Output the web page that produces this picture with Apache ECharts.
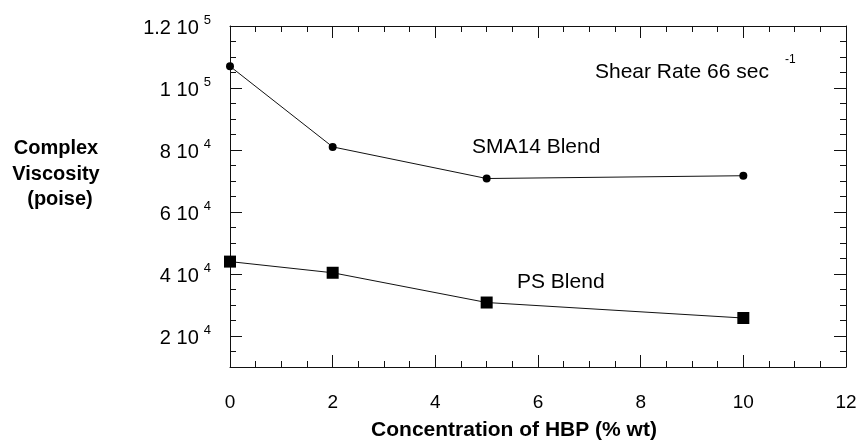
<!DOCTYPE html>
<html>
<head>
<meta charset="utf-8">
<script src="https://cdn.jsdelivr.net/npm/echarts@6/dist/echarts.min.js"></script>
<style>
html,body{margin:0;padding:0;background:#fff;}
#chart{width:861px;height:444px;}
</style>
</head>
<body>
<div id="chart"></div>
<script>
// ---- data ----
const concentration = [0, 2, 5, 10];
const sma14Blend = [107000, 81000, 70800, 71700];
const psBlend = [44000, 40400, 30800, 25800];
const yMajorTicks = [20000, 40000, 60000, 80000, 100000, 120000];
const xTickLabels = ['0', '2', '4', '6', '8', '10', '12'];
const annotations = {
  shear: 'Shear Rate 66 sec',
  shearSup: '-1',
  sma: 'SMA14 Blend',
  ps: 'PS Blend'
};
const yTitleLines = ['Complex', 'Viscosity', '(poise)'];
const xTitle = 'Concentration of HBP (% wt)';

const FONT = 'Liberation Sans, Arial, Helvetica, sans-serif';
const INK = '#111';

function sci(v) {
  const e = Math.floor(Math.log10(v) + 1e-9);
  const m = +(v / Math.pow(10, e)).toFixed(1);
  return '{m|' + m + ' 10}{e|' + e + '}';
}

const yRange = {min: 10000, max: 120000};
const xRange = {min: 0, max: 12};

const chart = echarts.init(document.getElementById('chart'), null, {renderer: 'canvas'});

const commonY = {
  type: 'value', min: yRange.min, max: yRange.max, splitLine: {show: false}
};
const commonX = {
  type: 'value', min: xRange.min, max: xRange.max, interval: 2, splitLine: {show: false}
};

chart.setOption({
  animation: false,
  backgroundColor: '#fff',
  grid: {left: 230, right: 15, top: 26, bottom: 77, containLabel: false, outerBoundsMode: 'none'},
  xAxis: [
    Object.assign({}, commonX, {
      position: 'bottom',
      axisLine: {show: true, lineStyle: {color: INK, width: 1}},
      axisTick: {show: true, inside: true, length: 12, lineStyle: {color: INK}},
      minorTick: {show: true, splitNumber: 4, length: 6, lineStyle: {color: INK}},
      axisLabel: {
        show: true, margin: 26, color: '#000', fontSize: 19, fontFamily: FONT,
        formatter: function (v) { return xTickLabels[Math.round(v / 2)]; }
      }
    }),
    Object.assign({}, commonX, {
      position: 'top',
      axisLine: {show: true, lineStyle: {color: INK, width: 1}},
      axisTick: {show: true, inside: true, length: 12, lineStyle: {color: INK}},
      minorTick: {show: true, splitNumber: 4, length: 6, lineStyle: {color: INK}},
      axisLabel: {show: false}
    })
  ],
  yAxis: [
    Object.assign({}, commonY, {
      position: 'left',
      axisLine: {show: true, lineStyle: {color: INK, width: 1}},
      axisTick: {show: true, inside: true, length: 12, customValues: yMajorTicks, lineStyle: {color: INK}},
      axisLabel: {
        show: true, margin: 19, customValues: yMajorTicks,
        formatter: sci,
        rich: {
          m: {fontSize: 20, fontFamily: FONT, color: '#000', lineHeight: 24, verticalAlign: 'bottom'},
          e: {fontSize: 13, fontFamily: FONT, color: '#000', lineHeight: 14, verticalAlign: 'top', padding: [0, 0, 0, 5]}
        }
      }
    }),
    Object.assign({}, commonY, {
      position: 'left', interval: 5000,
      axisLine: {show: false},
      axisTick: {show: true, inside: true, length: 6, lineStyle: {color: INK}},
      axisLabel: {show: false}
    }),
    Object.assign({}, commonY, {
      position: 'right',
      axisLine: {show: true, lineStyle: {color: INK, width: 1}},
      axisTick: {show: true, inside: true, length: 12, customValues: yMajorTicks, lineStyle: {color: INK}},
      axisLabel: {show: false}
    }),
    Object.assign({}, commonY, {
      position: 'right', interval: 5000,
      axisLine: {show: false},
      axisTick: {show: true, inside: true, length: 6, lineStyle: {color: INK}},
      axisLabel: {show: false}
    })
  ],
  series: [
    {
      name: 'SMA14 Blend', type: 'line', xAxisIndex: 0, yAxisIndex: 0,
      data: concentration.map((x, i) => [x, sma14Blend[i]]),
      symbol: 'circle', symbolSize: 8,
      lineStyle: {color: INK, width: 1},
      itemStyle: {color: '#000'}
    },
    {
      name: 'PS Blend', type: 'line', xAxisIndex: 0, yAxisIndex: 0,
      data: concentration.map((x, i) => [x, psBlend[i]]),
      symbol: 'rect', symbolSize: 12,
      lineStyle: {color: INK, width: 1},
      itemStyle: {color: '#000'}
    }
  ],
  graphic: [
    {type: 'text', left: 595, top: 62, style: {text: annotations.shear, font: '21px ' + FONT, fill: '#000'}},
    {type: 'text', left: 785, top: 54, style: {text: annotations.shearSup, font: '12px ' + FONT, fill: '#000'}},
    {type: 'text', left: 472, top: 137, style: {text: annotations.sma, font: '21px ' + FONT, fill: '#000'}},
    {type: 'text', left: 517, top: 272, style: {text: annotations.ps, font: '21px ' + FONT, fill: '#000'}},
    {type: 'text', x: 56, y: 148, style: {text: yTitleLines[0], font: 'bold 20px ' + FONT, fill: '#000', align: 'center', verticalAlign: 'middle'}},
    {type: 'text', x: 56, y: 174, style: {text: yTitleLines[1], font: 'bold 20px ' + FONT, fill: '#000', align: 'center', verticalAlign: 'middle'}},
    {type: 'text', x: 60, y: 199, style: {text: yTitleLines[2], font: 'bold 20px ' + FONT, fill: '#000', align: 'center', verticalAlign: 'middle'}},
    {type: 'text', x: 514, y: 430, style: {text: xTitle, font: 'bold 21px ' + FONT, fill: '#000', align: 'center', verticalAlign: 'middle'}}
  ]
});
</script>
</body>
</html>
